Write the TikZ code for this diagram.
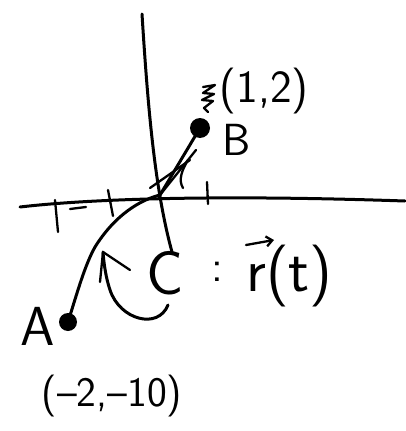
\documentclass[tikz,border=0pt]{standalone}
\usetikzlibrary{arrows.meta}
\begin{document}
\begin{tikzpicture}[x=1pt,y=-1pt,
  ink/.style={line width=3pt,line cap=round,line join=round,black},
  thin ink/.style={line width=2.3pt,line cap=round,line join=round,black},
  lbl/.style={inner sep=0pt,font=\sffamily}]
\useasboundingbox (0,0) rectangle (405,431);
% axes
\coordinate (ytop) at (142,14);
\coordinate (ybot) at (172,252);
\coordinate (xl) at (20,207);
\coordinate (xr) at (405,201);
\coordinate (O) at (160,195);
\draw[ink] (ytop) .. controls (148,110) and (155,190) .. (ybot);
\draw[ink] (xl) .. controls (80,200) and (200,194) .. (xr);
% ticks
\coordinate (t1a) at (55,200); \coordinate (t1b) at (58,232);
\coordinate (t2a) at (108,190); \coordinate (t2b) at (113,216);
\coordinate (t3a) at (207,182); \coordinate (t3b) at (208,204);
\coordinate (t4a) at (70,209); \coordinate (t4b) at (86,207);
\draw[thin ink] (t1a) -- (t1b);
\draw[thin ink] (t2a) -- (t2b);
\draw[thin ink] (t3a) -- (t3b);
\draw[thin ink] (t4a) -- (t4b);
% points
\node[circle,fill=black,minimum size=18pt,inner sep=0pt] (A) at (68,322) {};
\node[circle,fill=black,minimum size=20pt,inner sep=0pt] (B) at (200,128) {};
\coordinate (K) at (95,247);
% curve C
\draw[ink] (A.center) .. controls (78,290) and (85,265) .. (K) .. controls (115,215) and (140,200) .. (O) -- (B.center);
\draw[thin ink] (O) -- (196,150);
\draw[thin ink] (150,188) -- (190,160);
\draw[thin ink] (183,188) .. controls (178,180) and (182,170) .. (188,160);
% scribble above B
\coordinate (s1) at (203,87);
\draw[thin ink] (s1) -- (215,85) -- (203,93) -- (214,94) -- (202,100) -- (213,101) -- (204,108) -- (208,112);
% curved arrow
\coordinate (ar1) at (168,305);
\coordinate (ar2) at (103,252);
\draw[ink] (ar1) .. controls (158,330) and (120,320) .. (110,290) .. controls (106,278) and (104,265) .. (ar2);
\coordinate (ah1) at (130,270);
\coordinate (ah2) at (100,282);
\draw[thin ink] (ah1) -- (ar2) -- (ah2);
% labels
\node[lbl,font=\sffamily\fontsize{46}{46}\selectfont] (l12) at (264,91) {(1,2)};
\node[lbl,font=\sffamily\fontsize{45}{45}\selectfont] (lB) at (237,140) {B};
\node[lbl,font=\sffamily\fontsize{55}{55}\selectfont] (lA) at (38,326) {A};
\node[lbl,font=\sffamily\fontsize{42}{42}\selectfont] (lA2) at (112,396) {(--2,--10)};
\node[lbl,font=\sffamily\fontsize{62}{62}\selectfont] (lC) at (165,273) {C};
\node[lbl,font=\sffamily\fontsize{45}{45}\selectfont] (col) at (217,272) {:};
\node[lbl,font=\sffamily\fontsize{62}{62}\selectfont,anchor=west] (lr) at (246,276) {r(t)};
\coordinate (va) at (246,245);
\coordinate (vb) at (274,240);
\draw[thin ink,-{Straight Barb[length=6pt,width=10pt]}] (va) -- (vb);
\end{tikzpicture}
\end{document}
